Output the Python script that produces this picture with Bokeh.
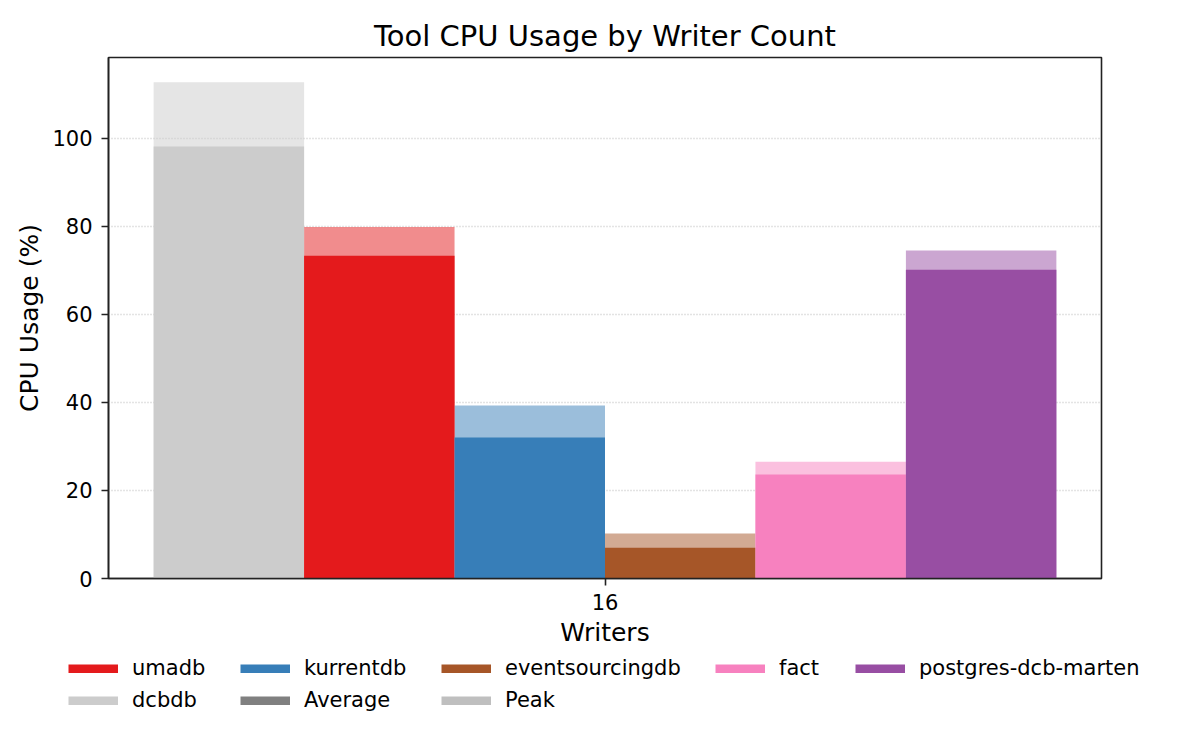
from bokeh.plotting import figure
from bokeh.layouts import column
from bokeh.models import Legend, LegendItem, FixedTicker, Range1d, ColumnDataSource
from bokeh.embed import file_html
from bokeh.resources import INLINE

tools = ["dcbdb", "umadb", "kurrentdb", "eventsourcingdb", "fact", "postgres-dcb-marten"]
avg_cpu = [98.1, 73.3, 32.0, 7.0, 23.6, 70.1]
peak_cpu = [112.7, 79.8, 39.3, 10.2, 26.5, 74.5]
colors = ["#cccccc", "#e41a1c", "#377eb8", "#a65628", "#f781bf", "#984ea3"]
writer_counts = ["16"]
legend_columns = [["umadb", "dcbdb"], ["kurrentdb", "Average"], ["eventsourcingdb", "Peak"],
                  ["fact"], ["postgres-dcb-marten"]]
extra_colors = {"Average": "#808080", "Peak": "#bfbfbf"}

bar_w = 0.15
n = len(tools)
xs = [(i - (n - 1) / 2) * bar_w for i in range(n)]

FONT = "DejaVu Sans"

p = figure(frame_width=993, frame_height=521,
           output_backend="svg", toolbar_location=None,
           x_range=Range1d(-0.495, 0.495), y_range=Range1d(0, 118.3),
           min_border_left=108, min_border_top=57, min_border_right=83,
           min_border_bottom=75,
           title="Tool CPU Usage by Writer Count")
p.frame_align = False

src = ColumnDataSource(dict(x=xs, avg=avg_cpu, peak=peak_cpu, color=colors, tool=tools))
p.vbar(x="x", top="peak", width=bar_w, source=src, fill_color="color",
       fill_alpha=0.5, line_color=None)
p.vbar(x="x", top="avg", width=bar_w, source=src, fill_color="color",
       line_color=None)

p.title.text_font = FONT
p.title.text_font_size = "29px"
p.title.text_font_style = "normal"
p.title.text_color = "#000000"
p.title.align = "center"

for ax in (p.xaxis[0], p.yaxis[0]):
    ax.axis_label_text_font = FONT
    ax.axis_label_text_font_size = "25px"
    ax.axis_label_text_font_style = "normal"
    ax.axis_label_text_color = "#000000"
    ax.major_label_text_font = FONT
    ax.major_label_text_font_size = "21px"
    ax.major_label_text_color = "#000000"
    ax.axis_line_color = "#222222"
    ax.axis_line_width = 1.6
    ax.major_tick_line_color = "#222222"
    ax.major_tick_line_width = 1.6
    ax.major_tick_out = 7
    ax.major_tick_in = 0
    ax.minor_tick_line_color = None

p.xaxis.axis_label = "Writers"
p.yaxis.axis_label = "CPU Usage (%)"
p.xaxis.major_label_standoff = 8
p.yaxis.major_label_standoff = 9
p.xaxis.ticker = FixedTicker(ticks=[0])
p.xaxis.major_label_overrides = {0: writer_counts[0]}
p.yaxis.ticker = FixedTicker(ticks=[0, 20, 40, 60, 80, 100])

p.xgrid.grid_line_color = None
p.ygrid.grid_line_color = "#c8c8c8"
p.ygrid.grid_line_dash = "1 2"
p.ygrid.grid_line_width = 1.3

p.outline_line_color = "#222222"
p.outline_line_width = 1.6
p.outline_line_alpha = 1

# ---- legend strip below the chart ----
LH = 81
lf = figure(width=1184, height=LH, output_backend="svg", toolbar_location=None,
            x_range=Range1d(0, 1), y_range=Range1d(0, 1),
            x_axis_type=None, y_axis_type=None,
            min_border_left=0, min_border_right=0, min_border_top=0, min_border_bottom=0)
lf.frame_align = False
lf.outline_line_color = None
lf.xgrid.grid_line_color = None
lf.ygrid.grid_line_color = None

col_x = [68, 240, 441, 715, 855]
item_h = 26
gap = 6
top = 2
for cx, names in zip(col_x, legend_columns):
    its = []
    for name in names:
        c = colors[tools.index(name)] if name in tools else extra_colors[name]
        # proxy line lies outside the visible range; it only feeds the legend
        r = lf.line(x=[5, 6], y=[5, 5], line_color=c, line_width=9)
        its.append(LegendItem(label=name, renderers=[r]))
    h = len(names) * item_h + (len(names) - 1) * gap
    lg = Legend(items=its, location=(cx, LH - top - h), orientation="vertical",
                label_text_font=FONT, label_text_font_size="21px",
                label_text_color="#000000",
                glyph_width=50, glyph_height=9, label_standoff=14,
                label_height=item_h, spacing=gap, padding=0, margin=0,
                border_line_color=None, background_fill_alpha=0)
    lf.add_layout(lg, "center")

layout = column(p, lf, spacing=0)
open("out.html", "w").write(file_html(layout, INLINE))
